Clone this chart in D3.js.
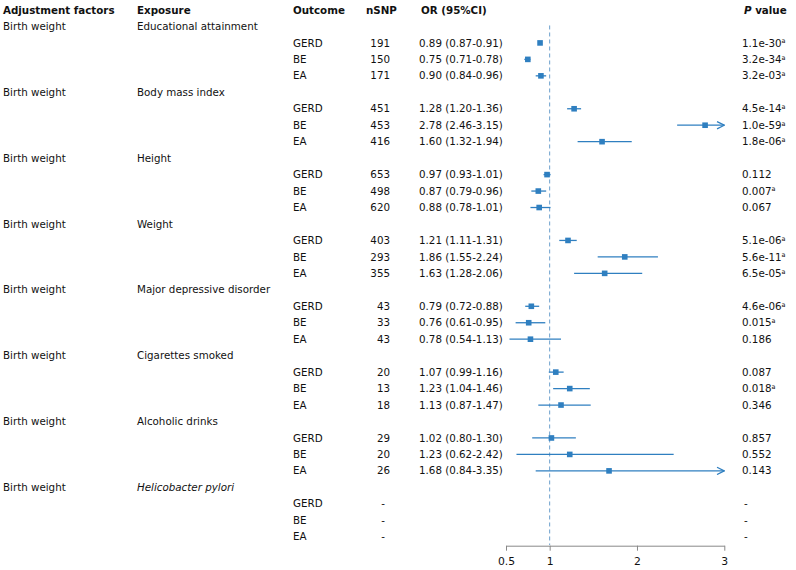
<!DOCTYPE html>
<html><head><meta charset="utf-8">
<script src="https://cdn.jsdelivr.net/npm/d3@7"></script>
<style>
body{margin:0;background:#fff;}
svg text{font-family:"DejaVu Sans",Verdana,sans-serif;font-size:10.3px;fill:#111;}
</style></head>
<body><svg id="c" width="796" height="570"></svg>
<script>
const headers = ["Adjustment factors","Exposure","Outcome","nSNP","OR (95%CI)","P value"];
const adjustment = "Birth weight";
const exposures = ["Educational attainment","Body mass index","Height","Weight","Major depressive disorder","Cigarettes smoked","Alcoholic drinks","Helicobacter pylori"];
const outcomes = ["GERD","BE","EA"];
const nsnp = [191,150,171, 451,453,416, 653,498,620, 403,293,355, 43,33,43, 20,13,18, 29,20,26, null,null,null];
const orVal = [0.89,0.75,0.90, 1.28,2.78,1.60, 0.97,0.87,0.88, 1.21,1.86,1.63, 0.79,0.76,0.78, 1.07,1.23,1.13, 1.02,1.23,1.68, null,null,null];
const ciLow = [0.87,0.71,0.84, 1.20,2.46,1.32, 0.93,0.79,0.78, 1.11,1.55,1.28, 0.72,0.61,0.54, 0.99,1.04,0.87, 0.80,0.62,0.84, null,null,null];
const ciHigh = [0.91,0.78,0.96, 1.36,3.15,1.94, 1.01,0.96,1.01, 1.31,2.24,2.06, 0.88,0.95,1.13, 1.16,1.46,1.47, 1.30,2.42,3.35, null,null,null];
const pText = ["1.1e-30","3.2e-34","3.2e-03", "4.5e-14","1.0e-59","1.8e-06", "0.112","0.007","0.067", "5.1e-06","5.6e-11","6.5e-05", "4.6e-06","0.015","0.186", "0.087","0.018","0.346", "0.857","0.552","0.143", "-","-","-"];
const pSig = [1,1,1, 1,1,1, 0,1,0, 1,1,1, 1,1,0, 0,1,0, 0,0,0, 0,0,0];
const axisTicks = [0.5,1,2,3];

const svg = d3.select("#c");
const rowH = 16.46, y0 = 10;
const rowY = i => y0 + i*rowH;
const x = d3.scaleLinear().domain([0.5,3]).range([506,724.3]);
const blue = "#2f7fc0";

// headers
const hx = [3,137,293,366,421];
headers.slice(0,5).forEach((h,i)=>{
  svg.append("text").attr("x",hx[i]).attr("y",rowY(0)).attr("dy","0.35em")
    .style("font-weight","bold").text(h);
});
const ph = svg.append("text").attr("x",744).attr("y",rowY(0)).attr("dy","0.35em").style("font-weight","bold");
ph.append("tspan").style("font-style","italic").text("P");
ph.append("tspan").text(" value");

// reference line
svg.append("line").attr("x1",x(1)).attr("x2",x(1)).attr("y1",rowY(1)-1).attr("y2",545)
  .attr("stroke","#6b9fcc").attr("stroke-width",1).attr("stroke-dasharray","4,3");

// arrow marker
svg.append("defs").append("marker").attr("id","arr").attr("viewBox","0 0 10 10")
  .attr("refX",9).attr("refY",5).attr("markerWidth",7).attr("markerHeight",7).attr("orient","auto")
  .append("path").attr("d","M1,1 L9,5 L1,9").attr("fill","none").attr("stroke",blue).attr("stroke-width",1.4);

exposures.forEach((ex,g)=>{
  const gi = 1 + g*4;
  svg.append("text").attr("x",3).attr("y",rowY(gi)).attr("dy","0.35em").text(adjustment);
  const t = svg.append("text").attr("x",137).attr("y",rowY(gi)).attr("dy","0.35em").text(ex);
  if (g === exposures.length-1) t.style("font-style","italic");
  outcomes.forEach((o,k)=>{
    const idx = g*3+k, ri = gi+1+k, y = rowY(ri);
    svg.append("text").attr("x",293).attr("y",y).attr("dy","0.35em").text(o);
    if (nsnp[idx] == null) {
      svg.append("text").attr("x",383).attr("y",y).attr("dy","0.35em").attr("text-anchor","middle").text("-");
    } else {
      svg.append("text").attr("x",390).attr("y",y).attr("dy","0.35em").attr("text-anchor","end").text(nsnp[idx]);
      svg.append("text").attr("x",419).attr("y",y).attr("dy","0.35em")
        .text(`${orVal[idx].toFixed(2)} (${ciLow[idx].toFixed(2)}-${ciHigh[idx].toFixed(2)})`);
      const hi = Math.min(ciHigh[idx],3), lo = Math.max(ciLow[idx],0.5);
      const ln = svg.append("line").attr("x1",x(lo)).attr("x2",x(hi)).attr("y1",y).attr("y2",y)
        .attr("stroke",blue).attr("stroke-width",1.3);
      if (ciHigh[idx] > 3) ln.attr("marker-end","url(#arr)");
      svg.append("rect").attr("x",x(orVal[idx])-2.8).attr("y",y-2.8).attr("width",5.6).attr("height",5.6)
        .attr("fill",blue);
    }
    const pt = svg.append("text").attr("x", pText[idx]==="-"?744:742).attr("y",y).attr("dy","0.35em").text(pText[idx]);
    if (pSig[idx]) pt.append("tspan").attr("dy","-0.5em").style("font-size","6.5px").text("a");
  });
});

// axis
const ax = svg.append("g").attr("transform","translate(0,545.7)")
  .call(d3.axisBottom(x).tickValues(axisTicks).tickFormat(d3.format("")).tickSize(5).tickSizeOuter(0));
ax.select(".domain").attr("stroke","#888");
ax.selectAll(".tick line").attr("stroke","#888");
ax.selectAll(".tick text").attr("dy","1.05em").style("font-size","10.8px").style("font-family","DejaVu Sans").attr("fill","#111");
</script></body></html>
